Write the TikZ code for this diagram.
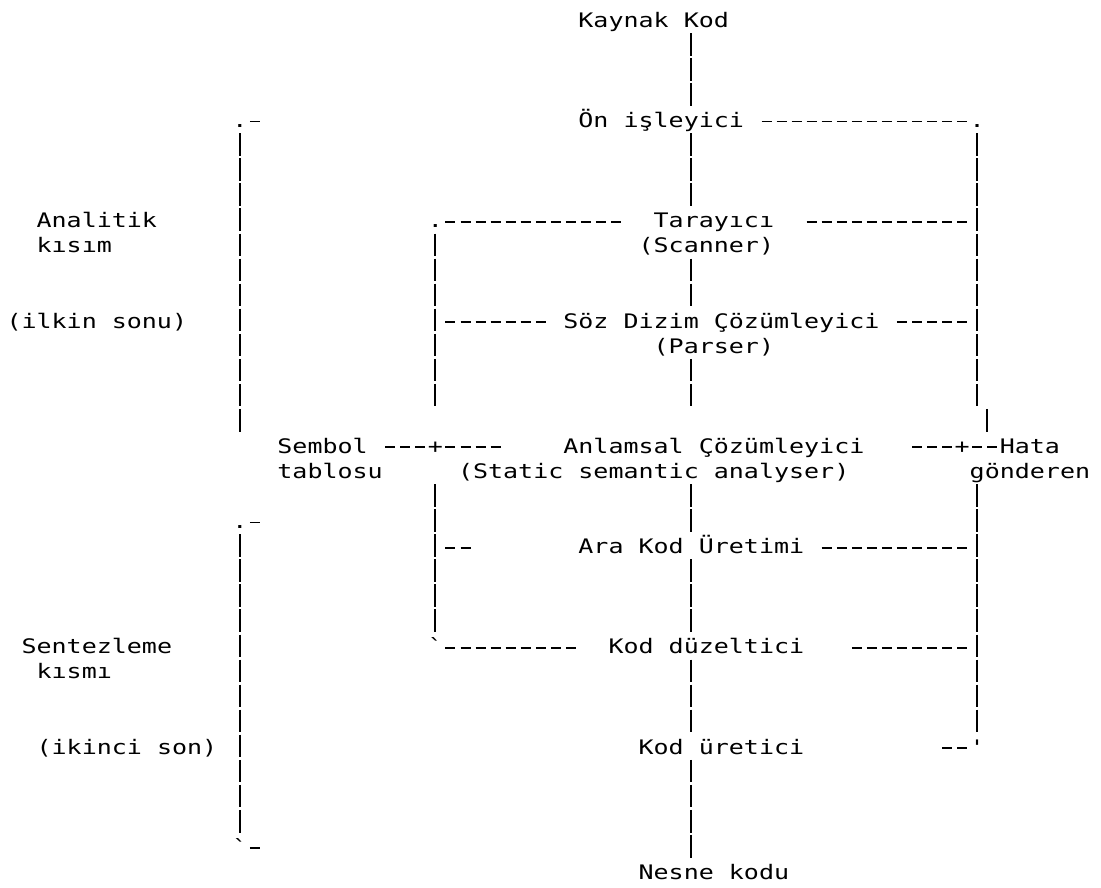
\documentclass[tikz,border=0pt]{standalone}
\usepackage{fontspec}
\newfontfamily\asciifont[FakeStretch=1.25]{DejaVu Sans Mono}

% grid helpers: one column = one character cell, one row = one text line
% vertical bar run in column #1 from row #2 to row #3
\newcommand\vrun[3]{\draw[vbar] ({#1+0.5},{#2-0.7702}) -- ({#1+0.5},{#3+0.1317});}
% dashed run on row #1 from column #2 to column #3
\newcommand\hrun[3]{\draw[hdash] ({#2+0.1661},{#1-0.2394}) -- ({#3+0.8306},{#1-0.2394});}

\begin{document}
\begin{tikzpicture}[
  x=15.05pt, y=-25.06pt,
  txt/.style={anchor=base west, inner sep=0pt, outer sep=0pt,
    font=\asciifont\fontsize{20pt}{25pt}\selectfont},
  vbar/.style={line width=1.9pt, dash pattern=on 22.6pt off 2.46pt},
  hdash/.style={line width=1.9pt, dash pattern=on 10pt off 5.05pt}
]
\useasboundingbox[fill=white] (-0.43189,-1.08939) rectangle (72.7243,34.3456);

% ---- labels ----
\node[txt] (kaynak)    at (38,0)  {Kaynak Kod};
\node[txt] (onisl)     at (38,4)  {Ön işleyici};
\node[txt] (analitik)  at (2,8)   {Analitik};
\node[txt] (kisim)     at (2,9)   {kısım};
\node[txt] (tarayici)  at (43,8)  {Tarayıcı};
\node[txt] (scanner)   at (42,9)  {(Scanner)};
\node[txt] (ilkin)     at (0,12)  {(ilkin sonu)};
\node[txt] (soz)       at (37,12) {Söz Dizim Çözümleyici};
\node[txt] (parser)    at (43,13) {(Parser)};
\node[txt] (sembol)    at (18,17) {Sembol};
\node[txt] (tablosu)   at (18,18) {tablosu};
\node[txt] (anlamsal)  at (37,17) {Anlamsal Çözümleyici};
\node[txt] (static)    at (30,18) {(Static semantic analyser)};
\node[txt] (hata)      at (66,17) {Hata};
\node[txt] (gonderen)  at (64,18) {gönderen};
\node[txt] (arakod)    at (38,21) {Ara Kod Üretimi};
\node[txt] (sentez)    at (1,25)  {Sentezleme};
\node[txt] (kismi)     at (2,26)  {kısmı};
\node[txt] (duzeltici) at (40,25) {Kod düzeltici};
\node[txt] (ikinci)    at (2,29)  {(ikinci son)};
\node[txt] (uretici)   at (42,29) {Kod üretici};
\node[txt] (nesne)     at (42,34) {Nesne kodu};

% ---- corner and junction marks ----
\node[txt] (dotA)  at (15,4)  {.};
\node[txt] (dotB)  at (64,4)  {.};
\node[txt] (dotC)  at (28,8)  {.};
\node[txt] (dotD)  at (15,20) {.};
\node[txt] (plusA) at (28,17) {+};
\node[txt] (plusB) at (63,17) {+};
\node[txt] (grvA)  at (28,25) {\char96};
\node[txt] (grvB)  at (15,33) {\char96};
\node[txt] (tick)  at (64,29) {\char39};

% ---- main flow (middle column) ----
\vrun{45}{1}{3}
\vrun{45}{5}{7}
\vrun{45}{10}{11}
\vrun{45}{14}{15}
\vrun{45}{19}{20}
\vrun{45}{22}{24}
\vrun{45}{26}{28}
\vrun{45}{30}{33}

% ---- left brackets ----
\vrun{15}{5}{16}
\vrun{15}{21}{32}
\hrun{4}{16}{16}
\hrun{20}{16}{16}
\hrun{33}{16}{16}

% ---- symbol table column ----
\vrun{28}{9}{15}
\vrun{28}{19}{24}
\hrun{8}{29}{40}
\hrun{12}{29}{35}
\hrun{17}{25}{27}
\hrun{17}{29}{32}
\hrun{21}{29}{30}
\hrun{25}{29}{37}

% ---- error handler column ----
\vrun{64}{5}{15}
\vrun{64.63}{16}{16}
\vrun{64}{19}{28}
\hrun{4}{50}{63}
\hrun{8}{53}{63}
\hrun{12}{59}{63}
\hrun{17}{60}{62}
\hrun{17}{64}{65}
\hrun{21}{54}{63}
\hrun{25}{56}{63}
\hrun{29}{62}{63}
\end{tikzpicture}
\end{document}
